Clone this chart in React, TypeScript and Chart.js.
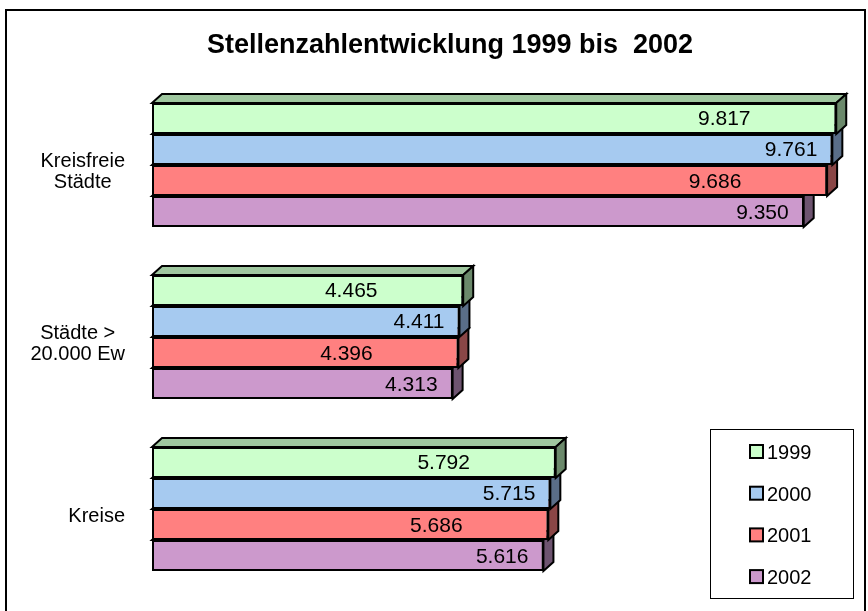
import React, { useEffect, useRef } from 'react';
import { Chart, registerables } from 'chart.js';

Chart.register(...registerables);

const chartTitle = 'Stellenzahlentwicklung 1999 bis  2002';
const categories: string[][] = [['Kreisfreie', 'Städte'], ['Städte >', '20.000 Ew'], ['Kreise']];
const seriesNames = ['1999', '2000', '2001', '2002'];
const values1999 = [9817, 4465, 5792];
const values2000 = [9761, 4411, 5715];
const values2001 = [9686, 4396, 5686];
const values2002 = [9350, 4313, 5616];
const axisMin = 0;
const axisMax = 10000;

const frontColors = ['#CCFFCC', '#A6CAF0', '#FF8080', '#CC99CC'];
const topColors = ['#9FC79F', '#8BA6C4', '#C76666', '#A07CA0'];
const sideColors = ['#6B896B', '#5A6E88', '#8A4646', '#6E5470'];

const FONT = "'Liberation Sans', Arial, sans-serif";
const DX = 10;
const DY = 9;

function fmt(v: number): string {
  const s = String(Math.round(v));
  return s.replace(/\B(?=(\d{3})+(?!\d))/g, '.');
}

const threeDPlugin = {
  id: 'threeD',
  beforeDraw(chart: any) {
    const ctx = chart.ctx;
    ctx.save();
    ctx.fillStyle = '#ffffff';
    ctx.fillRect(0, 0, chart.width, chart.height);
    ctx.strokeStyle = '#000';
    ctx.lineWidth = 2;
    ctx.strokeRect(6, 10, 859, 620);
    ctx.fillStyle = '#000';
    ctx.font = `bold 27px ${FONT}`;
    ctx.textAlign = 'center';
    ctx.textBaseline = 'alphabetic';
    ctx.fillText(chartTitle, 450, 53);
    ctx.restore();
  },
  beforeDatasetsDraw(chart: any) {
    const ctx = chart.ctx;
    ctx.save();
    ctx.strokeStyle = '#000';
    ctx.lineWidth = 2;
    ctx.lineJoin = 'miter';
    for (let d = chart.data.datasets.length - 1; d >= 0; d--) {
      const meta = chart.getDatasetMeta(d);
      meta.data.forEach((bar: any) => {
        const left = bar.base;
        const right = bar.x;
        const top = bar.y - bar.height / 2;
        const bottom = bar.y + bar.height / 2;
        ctx.fillStyle = topColors[d];
        ctx.beginPath();
        ctx.moveTo(left, top);
        ctx.lineTo(left + DX, top - DY);
        ctx.lineTo(right + DX, top - DY);
        ctx.lineTo(right, top);
        ctx.closePath();
        ctx.fill();
        ctx.stroke();
        ctx.fillStyle = sideColors[d];
        ctx.beginPath();
        ctx.moveTo(right, top);
        ctx.lineTo(right + DX, top - DY);
        ctx.lineTo(right + DX, bottom - DY);
        ctx.lineTo(right, bottom);
        ctx.closePath();
        ctx.fill();
        ctx.stroke();
      });
    }
    ctx.restore();
  },
  afterDatasetsDraw(chart: any) {
    const ctx = chart.ctx;
    ctx.save();
    ctx.fillStyle = '#000';
    ctx.font = `21px ${FONT}`;
    ctx.textBaseline = 'alphabetic';
    chart.data.datasets.forEach((ds: any, d: number) => {
      const meta = chart.getDatasetMeta(d);
      meta.data.forEach((bar: any, i: number) => {
        const txt = fmt(ds.data[i]);
        if (d % 2 === 0) {
          ctx.textAlign = 'center';
          ctx.fillText(txt, bar.x - 112, bar.y + 7);
        } else {
          ctx.textAlign = 'right';
          ctx.fillText(txt, bar.x - 15, bar.y + 7);
        }
      });
    });
    // category labels
    const yScale = chart.scales.y;
    ctx.font = `20px ${FONT}`;
    categories.forEach((lines, i) => {
      const c = yScale.getPixelForTick(i);
      const widths = lines.map((l) => ctx.measureText(l).width);
      const bw = Math.max(...widths);
      const cx = 125 - bw / 2;
      const lh = 21;
      const startY = c + 12.5 - ((lines.length - 1) * lh) / 2;
      ctx.textAlign = 'center';
      lines.forEach((l, k) => ctx.fillText(l, cx, startY + k * lh));
    });
    // legend
    ctx.lineWidth = 1;
    ctx.strokeStyle = '#000';
    ctx.strokeRect(710.5, 429.5, 143, 169);
    ctx.font = `20px ${FONT}`;
    ctx.textAlign = 'left';
    chart.data.datasets.forEach((ds: any, d: number) => {
      const ry = 452 + d * 41.7;
      ctx.fillStyle = frontColors[d];
      ctx.fillRect(750, ry - 7, 13, 13);
      ctx.lineWidth = 2;
      ctx.strokeRect(750, ry - 7, 13, 13);
      ctx.fillStyle = '#000';
      ctx.fillText(ds.label, 767, ry + 7);
    });
    ctx.restore();
  },
};

export default function App() {
  const ref = useRef<HTMLCanvasElement | null>(null);
  useEffect(() => {
    const canvas = ref.current;
    if (!canvas) return;
    const series = [values1999, values2000, values2001, values2002];
    const chart = new Chart(canvas, {
      type: 'bar',
      data: {
        labels: categories,
        datasets: series.map((vals, i) => ({
          label: seriesNames[i],
          data: vals,
          backgroundColor: frontColors[i],
          borderColor: '#000',
          borderWidth: 2,
          borderSkipped: false,
          barPercentage: 1,
          categoryPercentage: 0.721,
        })),
      },
      options: {
        indexAxis: 'y',
        responsive: false,
        animation: false,
        layout: { padding: { left: 152, right: 19, top: 79, bottom: 16 } },
        scales: {
          x: { display: false, min: axisMin, max: axisMax },
          y: { display: false },
        },
        plugins: {
          legend: { display: false },
          title: { display: false },
          tooltip: { enabled: false },
        },
      },
      plugins: [threeDPlugin],
    });
    return () => chart.destroy();
  }, []);
  return (
    <canvas
      ref={ref}
      width={868}
      height={611}
      style={{ position: 'fixed', left: 0, top: 0, width: 868, height: 611, display: 'block' }}
    />
  );
}
